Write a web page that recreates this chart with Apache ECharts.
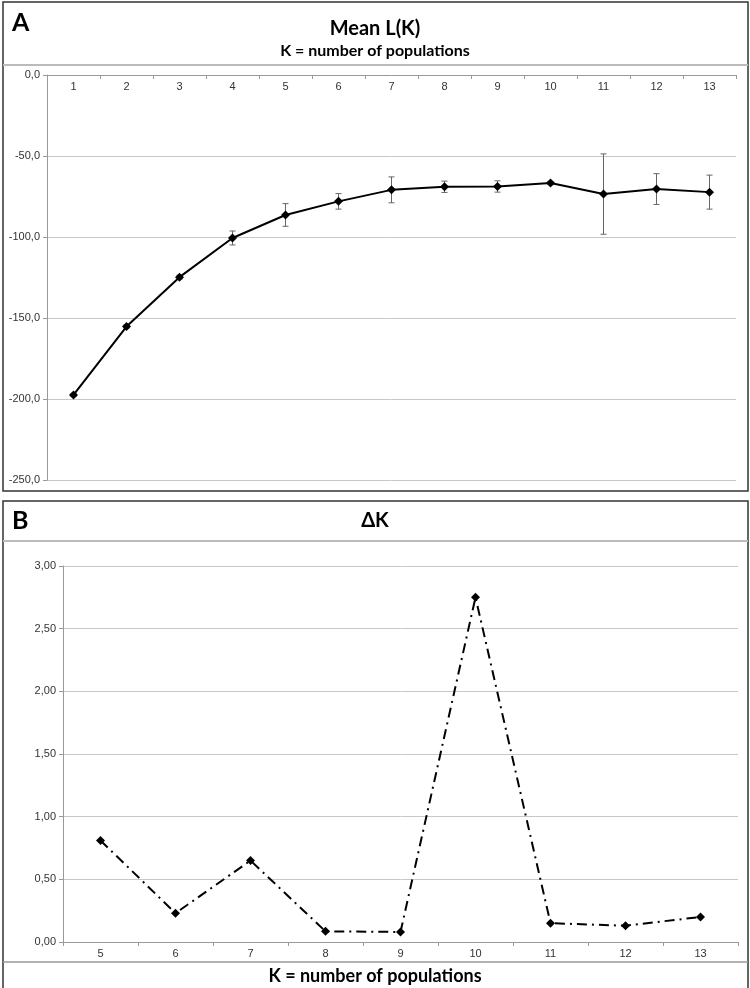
<!DOCTYPE html>
<html>
<head>
<meta charset="utf-8">
<script src="https://cdn.jsdelivr.net/npm/echarts@6/dist/echarts.min.js"></script>
<style>html,body{margin:0;padding:0;background:#fff}#c{width:750px;height:988px}</style>
</head>
<body>
<div id="c"></div>
<script>
// Panel A data
const kA = ['1','2','3','4','5','6','7','8','9','10','11','12','13'];
const meanLK = [-197.5, -155.3, -124.8, -100.6, -86.4, -78.0, -70.9, -69.0, -68.8, -66.7, -73.5, -70.4, -72.3];
const sdLK = [1.0, 1.0, 1.2, 4.3, 7.0, 4.8, 8.0, 3.5, 3.5, 1.0, 24.8, 9.5, 10.5];
const ticksA = [-250, -200, -150, -100, -50, 0];
// Panel B data
const kB = ['5','6','7','8','9','10','11','12','13'];
const deltaK = [0.81, 0.23, 0.65, 0.085, 0.08, 2.75, 0.15, 0.13, 0.20];
const ticksB = [0, 0.5, 1, 1.5, 2, 2.5, 3];

const errData = meanLK.map((m, i) => [i, m - sdLK[i], m + sdLK[i]]);

const chart = echarts.init(document.getElementById('c'), null, {renderer: 'canvas'});
const axisFont = {fontFamily: '"Liberation Sans", Arial, sans-serif', fontSize: 11, color: '#333'};
const titleFont = 'Lato, "Open Sans", sans-serif';

const option = {
  animation: false,
  backgroundColor: '#fff',
  grid: [
    {left: 47, top: 75, width: 689, height: 405},
    {left: 63, top: 566, width: 675, height: 376}
  ],
  xAxis: [
    {
      gridIndex: 0, type: 'category', data: kA, boundaryGap: true, position: 'top',
      axisLine: {onZero: false, lineStyle: {color: '#999', width: 1}},
      axisTick: {show: true, inside: true, length: 4, lineStyle: {color: '#999'}},
      axisLabel: Object.assign({inside: true, margin: 6}, axisFont),
      splitLine: {show: false}
    },
    {
      gridIndex: 1, type: 'category', data: kB, boundaryGap: true,
      axisLine: {lineStyle: {color: '#999', width: 1}},
      axisTick: {show: true, length: 4, lineStyle: {color: '#999'}},
      axisLabel: Object.assign({margin: 6}, axisFont),
      splitLine: {show: false}
    }
  ],
  yAxis: [
    {
      gridIndex: 0, type: 'value', min: ticksA[0], max: ticksA[ticksA.length - 1], interval: 50,
      axisLine: {show: true, lineStyle: {color: '#999'}},
      axisTick: {show: true, length: 4, lineStyle: {color: '#999'}},
      axisLabel: Object.assign({margin: 7, formatter: v => v.toFixed(1).replace('.', ',')}, axisFont),
      splitLine: {lineStyle: {color: '#c8c8c8', width: 1}}
    },
    {
      gridIndex: 1, type: 'value', min: ticksB[0], max: ticksB[ticksB.length - 1], interval: 0.5,
      axisLine: {show: true, lineStyle: {color: '#999'}},
      axisTick: {show: true, length: 4, lineStyle: {color: '#999'}},
      axisLabel: Object.assign({margin: 7, formatter: v => v.toFixed(2).replace('.', ',')}, axisFont),
      splitLine: {lineStyle: {color: '#c8c8c8', width: 1}}
    }
  ],
  series: [
    {
      type: 'custom', xAxisIndex: 0, yAxisIndex: 0, z: 1,
      data: errData,
      renderItem: function (params, api) {
        const x = api.value(0);
        const lo = api.coord([x, api.value(1)]);
        const hi = api.coord([x, api.value(2)]);
        const w = 3;
        const st = {stroke: '#666', lineWidth: 1};
        return {
          type: 'group',
          children: [
            {type: 'line', shape: {x1: lo[0], y1: lo[1], x2: hi[0], y2: hi[1]}, style: st},
            {type: 'line', shape: {x1: lo[0] - w, y1: lo[1], x2: lo[0] + w, y2: lo[1]}, style: st},
            {type: 'line', shape: {x1: hi[0] - w, y1: hi[1], x2: hi[0] + w, y2: hi[1]}, style: st}
          ]
        };
      }
    },
    {
      type: 'line', xAxisIndex: 0, yAxisIndex: 0, z: 3,
      data: meanLK,
      symbol: 'diamond', symbolSize: 9,
      itemStyle: {color: '#000'},
      lineStyle: {color: '#000', width: 2}
    },
    {
      type: 'line', xAxisIndex: 1, yAxisIndex: 1, z: 3,
      data: deltaK,
      symbol: 'diamond', symbolSize: 9,
      itemStyle: {color: '#000'},
      lineStyle: {color: '#000', width: 2, type: [10, 5, 2, 5]}
    }
  ],
  graphic: [
    // Panel A frame
    {type: 'rect', shape: {x: 3, y: 2, width: 745, height: 489}, style: {fill: 'none', stroke: '#333', lineWidth: 1.5}, silent: true},
    {type: 'line', shape: {x1: 3, y1: 65, x2: 748, y2: 65}, style: {stroke: '#bbb', lineWidth: 2}, silent: true},
    {type: 'text', left: 12, top: 10, style: {text: 'A', font: 'bold 25px ' + titleFont, fill: '#000'}},
    {type: 'text', x: 375, y: 29, style: {text: 'Mean L(K)', font: 'bold 20px ' + titleFont, fill: '#000', textAlign: 'center', textVerticalAlign: 'middle'}},
    {type: 'text', x: 375, y: 51, style: {text: 'K = number of populations', font: 'bold 16px ' + titleFont, fill: '#000', textAlign: 'center', textVerticalAlign: 'middle'}},
    // Panel B frame
    {type: 'rect', shape: {x: 3, y: 501, width: 745, height: 500}, style: {fill: 'none', stroke: '#333', lineWidth: 1.5}, silent: true},
    {type: 'line', shape: {x1: 3, y1: 541, x2: 748, y2: 541}, style: {stroke: '#bbb', lineWidth: 2}, silent: true},
    {type: 'text', left: 12, top: 508, style: {text: 'B', font: 'bold 25px ' + titleFont, fill: '#000'}},
    {type: 'text', x: 375, y: 521, style: {text: 'ΔK', font: 'bold 20px ' + titleFont, fill: '#000', textAlign: 'center', textVerticalAlign: 'middle'}},
    {type: 'line', shape: {x1: 3, y1: 962, x2: 748, y2: 962}, style: {stroke: '#999', lineWidth: 1.5}, silent: true},
    {type: 'text', x: 375, y: 976, style: {text: 'K = number of populations', font: 'bold 18px ' + titleFont, fill: '#000', textAlign: 'center', textVerticalAlign: 'middle'}}
  ]
};
chart.setOption(option);
</script>
</body>
</html>
